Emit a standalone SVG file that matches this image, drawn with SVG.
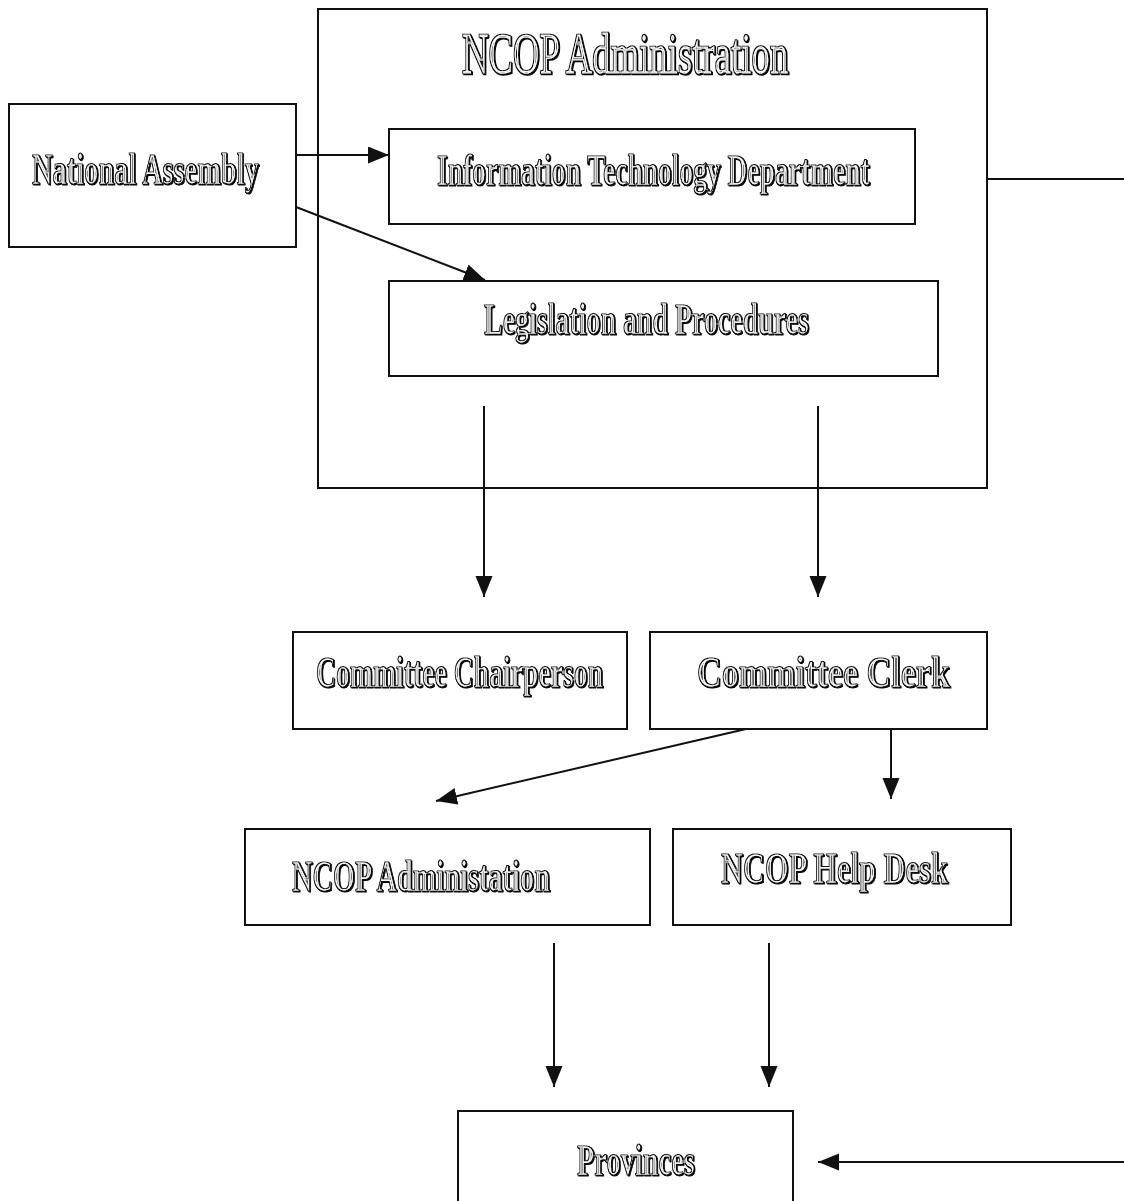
<svg xmlns="http://www.w3.org/2000/svg" width="1124" height="1201" viewBox="0 0 1124 1201">
<style>
  .box{fill:none;stroke:#111;stroke-width:2}
  .ln{fill:none;stroke:#111;stroke-width:2}
  .t{font-family:"Liberation Serif","Times New Roman",serif;font-weight:bold;font-size:44px;fill:#111;stroke:#111;stroke-width:1;filter:url(#eng)}
  .title{font-family:"Liberation Serif","Times New Roman",serif;font-size:58px;fill:#111;stroke:#111;stroke-width:2.4;filter:url(#eng)}
</style>
<defs>
  <marker id="ah" markerUnits="userSpaceOnUse" markerWidth="22" markerHeight="18" refX="21" refY="8.5" orient="auto">
    <path d="M0,0 L21,8.5 L0,17 z" fill="#111"/>
  </marker>
  <filter id="eng" x="-5%" y="-20%" width="110%" height="150%">
    <feOffset in="SourceAlpha" dx="2" dy="1.2" result="o"/>
    <feMorphology in="SourceAlpha" operator="erode" radius="1.6 1" result="e1"/>
    <feMorphology in="SourceAlpha" operator="erode" radius="2.6 1.6" result="e2"/>
    <feComposite in="e1" in2="e2" operator="out" result="ring"/>
    <feFlood flood-color="#fff" result="w"/>
    <feComposite in="w" in2="ring" operator="in" result="wring"/>
    <feMerge><feMergeNode in="o"/><feMergeNode in="SourceGraphic"/><feMergeNode in="wring"/></feMerge>
  </filter>
</defs>
<rect width="1124" height="1201" fill="#fff"/>

<g id="ncop-admin-outer">
  <rect class="box" x="318" y="9" width="669" height="479"/>
  <text class="title" transform="translate(462,73) scale(0.59,1)" textLength="553" lengthAdjust="spacingAndGlyphs">NCOP Administration</text>
</g>

<g id="national-assembly">
  <rect class="box" x="9" y="104" width="287" height="143"/>
  <text class="t" transform="translate(32,184) scale(0.62,1)" textLength="366" lengthAdjust="spacingAndGlyphs">National Assembly</text>
</g>

<g id="it-department">
  <rect class="box" x="389" y="129" width="526" height="95"/>
  <text class="t" transform="translate(437,185) scale(0.62,1)" textLength="698" lengthAdjust="spacingAndGlyphs">Information Technology Department</text>
</g>

<g id="legislation">
  <rect class="box" x="389" y="281" width="549" height="95"/>
  <text class="t" transform="translate(484,334) scale(0.62,1)" textLength="524" lengthAdjust="spacingAndGlyphs">Legislation and Procedures</text>
</g>

<g id="committee-chairperson">
  <rect class="box" x="293" y="632" width="334" height="97"/>
  <text class="t" transform="translate(316,687) scale(0.62,1)" textLength="463" lengthAdjust="spacingAndGlyphs">Committee Chairperson</text>
</g>

<g id="committee-clerk">
  <rect class="box" x="650" y="632" width="337" height="97"/>
  <text class="t" transform="translate(697,687) scale(0.62,1)" textLength="408" lengthAdjust="spacingAndGlyphs">Committee Clerk</text>
</g>

<g id="ncop-administation">
  <rect class="box" x="245" y="829" width="405" height="96"/>
  <text class="t" transform="translate(292,891) scale(0.62,1)" textLength="416" lengthAdjust="spacingAndGlyphs">NCOP Administation</text>
</g>

<g id="ncop-help-desk">
  <rect class="box" x="673" y="829" width="338" height="96"/>
  <text class="t" transform="translate(721,883) scale(0.62,1)" textLength="366" lengthAdjust="spacingAndGlyphs">NCOP Help Desk</text>
</g>

<g id="provinces">
  <rect class="box" x="458" y="1111" width="335" height="100"/>
  <text class="t" transform="translate(577,1175) scale(0.62,1)" textLength="190" lengthAdjust="spacingAndGlyphs">Provinces</text>
</g>

<g id="connectors">
  <line class="ln" x1="296" y1="155" x2="389" y2="155" marker-end="url(#ah)"/>
  <line class="ln" x1="296" y1="207" x2="485" y2="280" marker-end="url(#ah)"/>
  <line class="ln" x1="484" y1="406" x2="484" y2="597" marker-end="url(#ah)"/>
  <line class="ln" x1="818" y1="406" x2="818" y2="597" marker-end="url(#ah)"/>
  <line class="ln" x1="746" y1="729" x2="436" y2="801" marker-end="url(#ah)"/>
  <line class="ln" x1="891" y1="729" x2="891" y2="799" marker-end="url(#ah)"/>
  <line class="ln" x1="554" y1="943" x2="554" y2="1087" marker-end="url(#ah)"/>
  <line class="ln" x1="769" y1="943" x2="769" y2="1087" marker-end="url(#ah)"/>
  <line class="ln" x1="987" y1="179" x2="1124" y2="179"/>
  <line class="ln" x1="1124" y1="1162" x2="818" y2="1162" marker-end="url(#ah)"/>
</g>
</svg>
